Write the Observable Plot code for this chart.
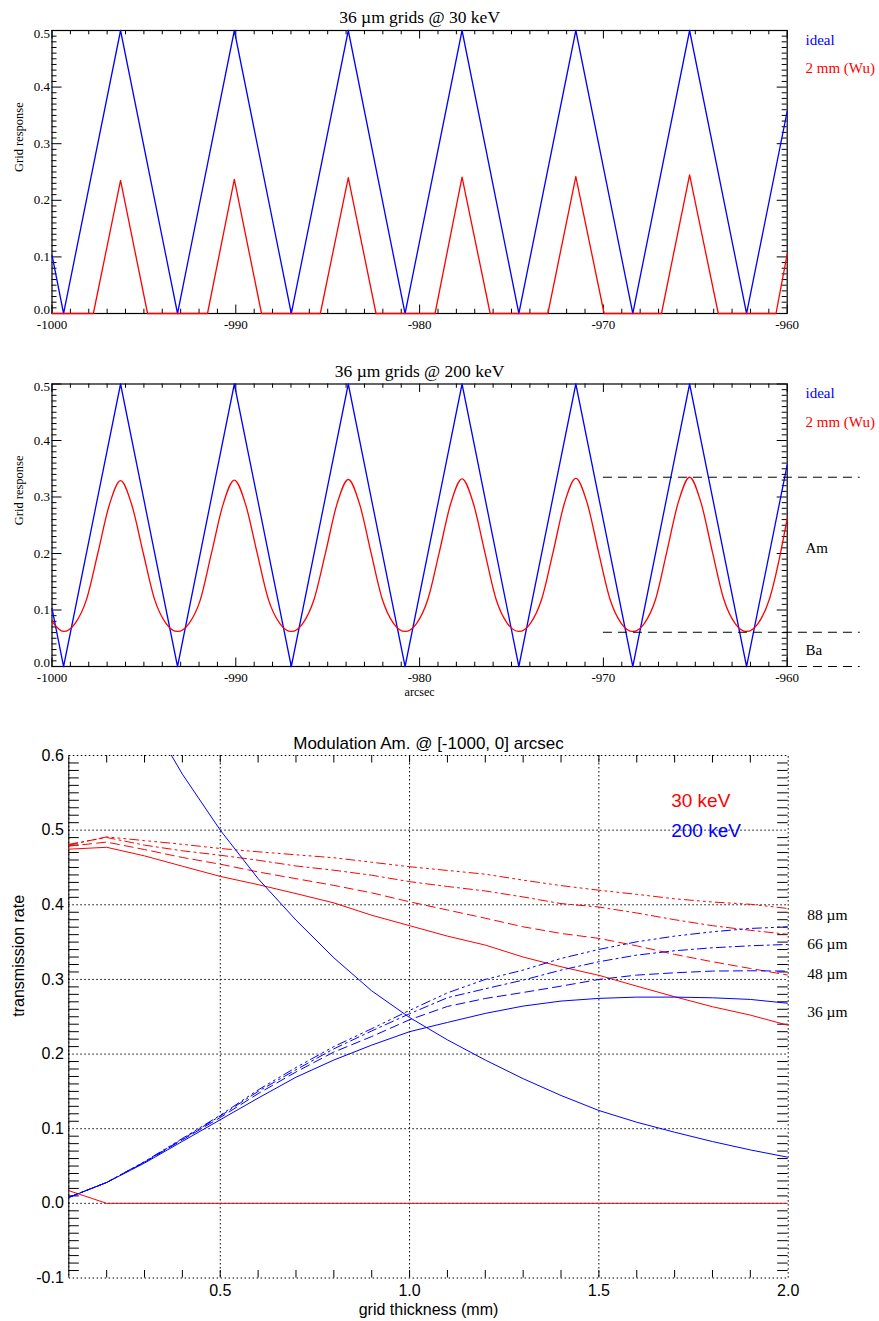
<!DOCTYPE html>
<html>
<head>
<meta charset="utf-8">
<script src="https://cdn.jsdelivr.net/npm/d3@7"></script>
<script src="https://cdn.jsdelivr.net/npm/@observablehq/plot@0.6"></script>
<style>
  html, body { margin: 0; padding: 0; background: #fff; }
  #wrap { width: 879px; }
  #wrap svg { display: block; }
</style>
</head>
<body>
<div id="wrap"></div>
<script>
// ---------------- DATA ----------------
// Panels 1 & 2: grid response vs. arcsec
const arcsecTicks = [-1000, -990, -980, -970, -960];
const responseTicks = [0, 0.1, 0.2, 0.3, 0.4, 0.5];

// ideal grid response (vertices of triangular response)
const idealX = [-1000, -999.37, -996.27, -993.17, -990.08, -986.98, -983.88, -980.79, -977.69, -974.60, -971.50, -968.40, -965.31, -962.21, -960];
const idealY = [0.103, 0, 0.5, 0, 0.5, 0, 0.5, 0, 0.5, 0, 0.5, 0, 0.5, 0, 0.357];

// 2 mm (Wu) @ 30 keV
const wu30X = [-1000, -997.75, -996.27, -994.80, -991.54, -990.08, -988.60, -985.40, -983.88, -982.37, -979.16, -977.69, -976.16, -973.02, -971.50, -969.96, -966.84, -965.31, -963.75, -960.61, -960];
const wu30Y = [0, 0, 0.235, 0, 0, 0.237, 0, 0, 0.240, 0, 0, 0.241, 0, 0, 0.242, 0, 0, 0.245, 0, 0, 0.105];

// 2 mm (Wu) @ 200 keV
const wu200X = [
  -1000, -999.37, -998.75, -998.13, -997.51, -996.89, -996.27, -995.65, -995.03, -994.41, -993.79,
  -993.17, -992.55, -991.93, -991.32, -990.70, -990.08, -989.46, -988.84, -988.22, -987.60,
  -986.98, -986.36, -985.74, -985.12, -984.50, -983.88, -983.26, -982.64, -982.03, -981.41,
  -980.79, -980.17, -979.55, -978.93, -978.31, -977.69, -977.07, -976.45, -975.84, -975.22,
  -974.60, -973.98, -973.36, -972.74, -972.12, -971.50, -970.88, -970.26, -969.64, -969.02,
  -968.40, -967.78, -967.16, -966.55, -965.93, -965.31, -964.69, -964.07, -963.45, -962.83,
  -962.21, -961.59, -960.97, -960.35, -960];
const wu200Y = [
  0.080, 0.062, 0.076, 0.118, 0.200, 0.285, 0.329, 0.285, 0.200, 0.118, 0.076,
  0.062, 0.076, 0.118, 0.201, 0.286, 0.330, 0.286, 0.201, 0.118, 0.076,
  0.062, 0.076, 0.119, 0.201, 0.287, 0.331, 0.287, 0.201, 0.119, 0.076,
  0.062, 0.076, 0.119, 0.202, 0.288, 0.332, 0.288, 0.202, 0.119, 0.076,
  0.062, 0.076, 0.119, 0.202, 0.289, 0.333, 0.289, 0.202, 0.119, 0.076,
  0.062, 0.076, 0.119, 0.203, 0.290, 0.335, 0.290, 0.203, 0.119, 0.076,
  0.062, 0.076, 0.119, 0.203, 0.262];

// Am / Ba reference levels
const amBaLevels = [0.335, 0.0606, 0];

// Panel 3: modulation amplitude vs grid thickness
const thickness = [0.1, 0.2, 0.3, 0.4, 0.5, 0.6, 0.7, 0.8, 0.9, 1.0, 1.1, 1.2, 1.3, 1.4, 1.5, 1.6, 1.7, 1.8, 1.9, 2.0];
const red36 = [0.4745, 0.477, 0.4655, 0.4517, 0.438, 0.427, 0.415, 0.4025, 0.386, 0.372, 0.358, 0.346, 0.330, 0.317, 0.3055, 0.291, 0.2768, 0.2634, 0.2522, 0.2385];
const red48 = [0.4785, 0.484, 0.474, 0.4634, 0.4544, 0.444, 0.435, 0.426, 0.416, 0.404, 0.393, 0.382, 0.3705, 0.3616, 0.355, 0.345, 0.3335, 0.3237, 0.3147, 0.3058];
const red66 = [0.481, 0.4902, 0.4799, 0.4723, 0.4664, 0.4597, 0.452, 0.4463, 0.4396, 0.431, 0.4245, 0.4185, 0.4105, 0.4016, 0.397, 0.389, 0.380, 0.372, 0.3658, 0.3604];
const red88 = [0.480, 0.491, 0.486, 0.481, 0.4754, 0.471, 0.467, 0.463, 0.457, 0.451, 0.446, 0.441, 0.433, 0.4257, 0.4195, 0.414, 0.408, 0.4037, 0.4007, 0.395];
const redFloor = [0.017, 0, 0, 0, 0, 0, 0, 0, 0, 0, 0, 0, 0, 0, 0, 0, 0, 0, 0, 0];
const blue36 = [0.008, 0.028, 0.054, 0.083, 0.112, 0.141, 0.169, 0.192, 0.212, 0.230, 0.2424, 0.2545, 0.2643, 0.271, 0.2746, 0.2763, 0.2763, 0.2754, 0.2732, 0.268];
const blue48 = [0.008, 0.028, 0.055, 0.085, 0.115, 0.147, 0.176, 0.2027, 0.2235, 0.246, 0.2638, 0.2745, 0.2825, 0.291, 0.300, 0.3058, 0.3089, 0.3112, 0.3116, 0.3112];
const blue66 = [0.008, 0.028, 0.0555, 0.086, 0.117, 0.150, 0.179, 0.207, 0.231, 0.254, 0.2755, 0.2875, 0.2991, 0.3125, 0.3237, 0.3326, 0.3384, 0.3424, 0.3451, 0.3469];
const blue88 = [0.008, 0.028, 0.056, 0.087, 0.118, 0.152, 0.182, 0.210, 0.234, 0.2585, 0.282, 0.300, 0.3125, 0.3281, 0.3402, 0.3504, 0.358, 0.3638, 0.3683, 0.3705];
const blueFall = [0.88, 0.762, 0.662, 0.575, 0.500, 0.435, 0.3795, 0.329, 0.2847, 0.249, 0.219, 0.192, 0.167, 0.1445, 0.1244, 0.1087, 0.0953, 0.0828, 0.0716, 0.0617];

const thicknessTicks = [0.5, 1.0, 1.5, 2.0];
const rateTicks = [-0.1, 0.0, 0.1, 0.2, 0.3, 0.4, 0.5, 0.6];
const thicknessGrid = [0.5, 1.0, 1.5];
const rateGrid = [0.0, 0.1, 0.2, 0.3, 0.4, 0.5];
const gridLabels = ["88 \u00b5m", "66 \u00b5m", "48 \u00b5m", "36 \u00b5m"];

// ---------------- STYLES ----------------
const RED = "#ff0000", BLUE = "#0000ff";
const DASH = "9,5";
const DASHDOT = "9,4,2,4";
const DASHDOT3 = "9,4,2,4,2,4,2,4";
const DOT = "1.5,2.5";
const gridLabelOffsets = [160, 189, 219, 256.7];
const wrap = document.getElementById("wrap");

// minor tick positions (axis decoration)
const arcsecMinor = d3.range(-999, -960, 1).filter(v => v % 10 !== 0);
const responseMinor = d3.range(1, 50).map(i => i / 100).filter((v, i) => (i + 1) % 10 !== 0);
const thickMinor = d3.range(2, 20).map(i => i / 10);
const rateMinor = d3.range(-9, 60).map(i => i / 100).filter(v => Math.abs(Math.round(v * 100)) % 10 !== 0);

function framedTicks(fw, fh, xMaj, xMin, yMaj, yMin, xl, xs, yl, ys) {
  const m = [];
  m.push(Plot.tickX(xMaj, {x: d => d, insetTop: fh - xl, stroke: "black"}));
  m.push(Plot.tickX(xMaj, {x: d => d, insetBottom: fh - xl, stroke: "black"}));
  m.push(Plot.tickX(xMin, {x: d => d, insetTop: fh - xs, stroke: "black"}));
  m.push(Plot.tickX(xMin, {x: d => d, insetBottom: fh - xs, stroke: "black"}));
  m.push(Plot.tickY(yMaj, {y: d => d, insetRight: fw - yl, stroke: "black"}));
  m.push(Plot.tickY(yMaj, {y: d => d, insetLeft: fw - yl, stroke: "black"}));
  m.push(Plot.tickY(yMin, {y: d => d, insetRight: fw - ys, stroke: "black"}));
  m.push(Plot.tickY(yMin, {y: d => d, insetLeft: fw - ys, stroke: "black"}));
  return m;
}

function label(txt, opts) {
  return Plot.text([txt], {text: d => d, lineAnchor: "middle", ...opts});
}

function gridPanel({height, mt, mb, title, wu, wuY, annot, xlabel}) {
  const ml = 51.5, mr = 92.3;
  const fw = 879 - ml - mr, fh = height - mt - mb;
  const yfmt = d => d.toFixed(1);
  const marks = [
    ...framedTicks(fw, fh, arcsecTicks, arcsecMinor, responseTicks, responseMinor, 8.5, 4.3, 10, 5),
    Plot.frame({stroke: "black", strokeWidth: 1.2}),
    Plot.axisX(arcsecTicks, {tickSize: 0, tickPadding: 6.5, tickFormat: d => String(d), fontSize: 13}),
    Plot.axisY(responseTicks.slice(1, 5), {tickSize: 0, tickPadding: 2, tickFormat: yfmt, fontSize: 13}),
    Plot.axisY([responseTicks[0]], {tickSize: 0, tickPadding: 2, tickFormat: yfmt, fontSize: 13, dy: -4}),
    Plot.axisY([responseTicks[5]], {tickSize: 0, tickPadding: 2, tickFormat: yfmt, fontSize: 13, dy: 3}),
    Plot.line(idealY, {x: idealX, y: idealY, stroke: BLUE, strokeWidth: 1.3}),
    Plot.line(wuY, {x: wu, y: wuY, stroke: RED, strokeWidth: 1.3, curve: annot ? "monotone-x" : "linear"}),
    label(title, {frameAnchor: "top", dy: -13, fontSize: 17.5}),
    label("Grid response", {frameAnchor: "left", dx: -33.5, rotate: -90, fontSize: 12.5}),
    label("ideal", {frameAnchor: "top-right", dx: 18.3, dy: 9.5, textAnchor: "start", fill: BLUE, fontSize: 15}),
    label("2 mm (Wu)", {frameAnchor: "top-right", dx: 18.3, dy: 38, textAnchor: "start", fill: RED, fontSize: 15})
  ];
  if (annot) {
    marks.push(Plot.ruleY(amBaLevels, {y: d => d, x1: -970, x2: -960, insetRight: -73, stroke: "black", strokeDasharray: "9,6", strokeWidth: 1}));
    marks.push(label("Am", {frameAnchor: "top-right", dx: 18.3, dy: 164.5, textAnchor: "start", fontSize: 15}));
    marks.push(label("Ba", {frameAnchor: "top-right", dx: 18.3, dy: 266.5, textAnchor: "start", fontSize: 15}));
  }
  if (xlabel) {
    marks.push(label(xlabel, {frameAnchor: "bottom", dy: 26, fontSize: 12}));
  }
  return Plot.plot({
    width: 879, height, marginLeft: ml, marginRight: mr, marginTop: mt, marginBottom: mb,
    x: {domain: [-1000, -960], label: null},
    y: {domain: [0, 0.5], label: null},
    style: {fontFamily: "'Liberation Serif', serif", fontSize: "13px", color: "black", background: "white", overflow: "visible"},
    marks
  });
}

wrap.append(gridPanel({height: 345, mt: 30, mb: 32, title: "36 \u00b5m grids @ 30 keV", wu: wu30X, wuY: wu30Y, annot: false}));
wrap.append(gridPanel({height: 360, mt: 38.5, mb: 39, title: "36 \u00b5m grids @ 200 keV", wu: wu200X, wuY: wu200Y, annot: true, xlabel: "arcsec"}));

// ---------------- PANEL 3 ----------------
(function () {
  const height = 616, mt = 50, mb = 43.5, ml = 68.3, mr = 91.3;
  const fw = 879 - ml - mr, fh = height - mt - mb;
  const line = (ys, stroke, dash) =>
    Plot.line(ys, {x: thickness, y: ys, stroke, strokeWidth: 1, strokeDasharray: dash, clip: true});
  const marks = [
    Plot.ruleX(thicknessGrid, {x: d => d, stroke: "black", strokeDasharray: DOT}),
    Plot.ruleY(rateGrid, {y: d => d, stroke: "black", strokeDasharray: DOT}),
    Plot.frame({stroke: "black", strokeDasharray: DOT}),
    Plot.ruleX([thickness[0]], {x: d => d, stroke: "black"}),
    Plot.tickX(thickMinor, {x: d => d, insetTop: fh - 7.5, stroke: "black"}),
    Plot.tickX(thickMinor, {x: d => d, insetBottom: fh - 7.5, stroke: "black"}),
    Plot.tickY(rateMinor, {y: d => d, insetRight: fw - 10.5, stroke: "black"}),
    Plot.tickY(rateMinor, {y: d => d, insetLeft: fw - 10.5, stroke: "black"}),
    Plot.axisX(thicknessTicks, {tickSize: 0, tickPadding: 7, tickFormat: d => d.toFixed(1), fontSize: 16}),
    Plot.axisY(rateTicks, {tickSize: 0, tickPadding: 5, tickFormat: d => d.toFixed(1), fontSize: 16}),
    line(redFloor, RED, null),
    line(red36, RED, null),
    line(red48, RED, DASH),
    line(red66, RED, DASHDOT),
    line(red88, RED, DASHDOT3),
    line(blue36, BLUE, null),
    line(blue48, BLUE, DASH),
    line(blue66, BLUE, DASHDOT),
    line(blue88, BLUE, DASHDOT3),
    line(blueFall, BLUE, null),
    label("Modulation Am. @ [-1000, 0] arcsec", {frameAnchor: "top", dy: -12, fontSize: 17}),
    label("transmission rate", {frameAnchor: "left", dx: -50, rotate: -90, fontSize: 16}),
    label("grid thickness (mm)", {frameAnchor: "bottom", dy: 32, fontSize: 16}),
    label("30 keV", {frameAnchor: "top-right", dx: -117, dy: 45, textAnchor: "start", fill: RED, fontSize: 19}),
    label("200 keV", {frameAnchor: "top-right", dx: -117, dy: 75, textAnchor: "start", fill: BLUE, fontSize: 19}),
    ...gridLabels.map((g, i) => label(g, {frameAnchor: "top-right", dx: 19, dy: gridLabelOffsets[i], textAnchor: "start", fontSize: 15.5, fontFamily: "'Liberation Serif', serif"}))
  ];
  wrap.append(Plot.plot({
    width: 879, height, marginLeft: ml, marginRight: mr, marginTop: mt, marginBottom: mb,
    x: {domain: [0.1, 2.0], label: null},
    y: {domain: [-0.1, 0.6], label: null},
    style: {fontFamily: "'Liberation Sans', Arial, sans-serif", fontSize: "16px", color: "black", background: "white", overflow: "visible"},
    marks
  }));
})();
</script>
</body>
</html>
